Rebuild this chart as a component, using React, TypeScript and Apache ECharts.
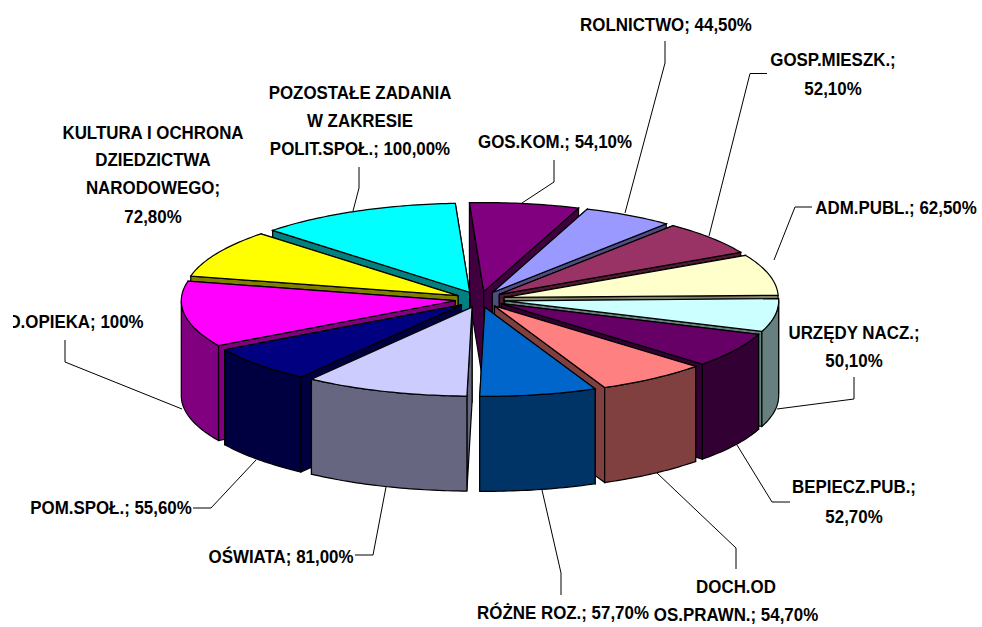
import React, { useEffect, useRef } from "react";
import * as echarts from "echarts";

const names = ["GOS.KOM.", "ROLNICTWO", "GOSP.MIESZK.", "ADM.PUBL.", "URZĘDY NACZ.", "BEPIECZ.PUB.", "DOCH.OD OS.PRAWN.", "RÓŻNE ROZ.", "OŚWIATA", "POM.SPOŁ.", "D.OPIEKA", "KULTURA I OCHRONA DZIEDZICTWA NARODOWEGO", "POZOSTAŁE ZADANIA W ZAKRESIE POLIT.SPOŁ."];
const values = [54.1, 44.5, 52.1, 62.5, 50.1, 52.7, 54.7, 57.7, 81.0, 55.6, 100, 72.8, 100];
const topColors = ["#800080", "#9999FF", "#993366", "#FFFFCC", "#CCFFFF", "#660066", "#FF8080", "#0066CC", "#CCCCFF", "#000080", "#FF00FF", "#FFFF00", "#00FFFF"];
const sideColors = ["#400040", "#4D4D80", "#4D1A33", "#808066", "#668080", "#330033", "#804040", "#003366", "#666680", "#000040", "#800080", "#808000", "#008080"];

const labelLines = [
  ["GOS.KOM.; 54,10%"],
  ["ROLNICTWO; 44,50%"],
  ["GOSP.MIESZK.;", "52,10%"],
  ["ADM.PUBL.; 62,50%"],
  ["URZĘDY NACZ.;", "50,10%"],
  ["BEPIECZ.PUB.;", "52,70%"],
  ["DOCH.OD", "OS.PRAWN.; 54,70%"],
  ["RÓŻNE ROZ.; 57,70%"],
  ["OŚWIATA; 81,00%"],
  ["POM.SPOŁ.; 55,60%"],
  ["D.OPIEKA; 100%"],
  ["KULTURA I OCHRONA", "DZIEDZICTWA", "NARODOWEGO;", "72,80%"],
  ["POZOSTAŁE ZADANIA", "W ZAKRESIE", "POLIT.SPOŁ.; 100,00%"],
];
// label placement: centre x, middle y of each line
const labelX = [555, 666, 833, 896, 854, 854, 736, 563, 281, 111, 76, 153, 360];
const labelY = [
  [142], [25], [60, 89], [208], [333, 361], [487, 517], [587, 615], [613], [557], [508], [322], [133, 160, 188, 217], [93, 121, 149],
];
const leaders: number[][][] = [
  [[554, 160], [554, 182], [522, 203]],
  [[665, 41], [665, 63], [625, 213]],
  [[767, 73.5], [750, 73.5], [709, 236]],
  [[812, 207], [795, 207], [774, 260]],
  [[854, 377], [854, 399], [777, 409]],
  [[790, 502], [772, 502], [737, 445]],
  [[736, 569], [736, 548], [657, 473]],
  [[561, 595], [561, 573], [542, 490]],
  [[355, 555], [373, 555], [386, 487]],
  [[193, 508], [211, 508], [256, 460]],
  [[65, 340], [65, 362], [182, 409]],
  [],
  [[359, 167], [359, 188], [353, 211]],
];

const START_DEG = -3;
const CX = 480, CY = 299.5, RX = 274, RY = 89, DEPTH = 95, EX = 25, EY = 8;
const total = values.reduce((a, b) => a + b, 0);
const rad = (d: number) => (d * Math.PI) / 180;

function sliceAngles(i: number) {
  let s = START_DEG;
  for (let k = 0; k < i; k++) s += (values[k] / total) * 360;
  return [s, s + (values[i] / total) * 360];
}
// paint back slices first
const depthRank = values
  .map((_, i) => {
    const [a, b] = sliceAngles(i);
    return { i, d: -Math.cos(rad((a + b) / 2)) };
  })
  .sort((p, q) => p.d - q.d)
  .reduce((acc: number[], p, r) => {
    acc[p.i] = r;
    return acc;
  }, []);

const renderSlice = (params: any, api: any) => {
  const i = params.dataIndex;
  const share = (api.value(0) / total) * 360;
  const a0 = sliceAngles(i)[0];
  const a1 = a0 + share;
  const mid = rad((a0 + a1) / 2);
  const ox = CX + EX * Math.sin(mid);
  const oy = CY - EY * Math.cos(mid);
  const pt = (deg: number, dz = 0) => [ox + RX * Math.sin(rad(deg)), oy - RY * Math.cos(rad(deg)) + dz];
  const arc = (from: number, to: number, dz = 0) => {
    const pts: number[][] = [];
    const n = Math.max(1, Math.ceil(Math.abs(to - from)));
    for (let k = 0; k <= n; k++) pts.push(pt(from + ((to - from) * k) / n, dz));
    return pts;
  };
  const base = { stroke: "#000", lineWidth: 1.2, lineJoin: "miter" };
  const z = depthRank[i] * 5;
  const poly = (points: number[][], fill: string, k: number) => ({
    type: "polygon",
    z2: z + k,
    shape: { points },
    style: { ...base, fill },
    silent: true,
  });
  const wall = (deg: number, k: number) =>
    poly([[ox, oy], pt(deg), pt(deg, DEPTH), [ox, oy + DEPTH]], sideColors[i], k);
  // of the two radial walls, the one further back goes down first
  const backFirst = Math.cos(rad(a0)) > Math.cos(rad(a1));
  const children: any[] = backFirst ? [wall(a0, 0), wall(a1, 1)] : [wall(a1, 0), wall(a0, 1)];
  const f0 = Math.max(a0, 90);
  const f1 = Math.min(a1, 270);
  if (f1 > f0) {
    children.push(poly([...arc(f0, f1), ...arc(f1, f0, DEPTH)], sideColors[i], 2));
  }
  children.push(poly([[ox, oy], ...arc(a0, a1)], topColors[i], 3));
  return { type: "group", children };
};

const labelGraphics: any[] = [];
labelLines.forEach((lines, i) => {
  lines.forEach((t, j) => {
    labelGraphics.push({
      type: "text",
      z: 20,
      x: labelX[i],
      y: labelY[i][j],
      scaleX: 0.89,
      style: {
        text: t,
        fill: "#000",
        font: 'bold 19px "Liberation Sans", Arial, sans-serif',
        textAlign: "center",
        textVerticalAlign: "middle",
      },
    });
  });
});
const leaderGraphics = leaders
  .filter((l) => l.length)
  .map((points) => ({
    type: "polyline",
    z: 15,
    shape: { points },
    style: { stroke: "#000", lineWidth: 1, fill: "none" },
  }));

export default function App() {
  const ref = useRef<HTMLDivElement>(null);
  useEffect(() => {
    document.body.style.margin = "0";
    const chart = echarts.init(ref.current!, undefined, { renderer: "svg" });
    chart.setOption({
      animation: false,
      backgroundColor: "#fff",
      series: [
        {
          type: "custom",
          coordinateSystem: "none",
          renderItem: renderSlice,
          data: names.map((name, i) => ({ name, value: [values[i]] })),
          silent: true,
        },
      ],
      graphic: [
        ...leaderGraphics,
        ...labelGraphics,
        // the reference crops the left of the label at the page edge
        { type: "rect", z: 30, shape: { x: 0, y: 305, width: 13, height: 34 }, style: { fill: "#fff" }, silent: true },
      ],
    });
    return () => chart.dispose();
  }, []);
  return <div ref={ref} style={{ width: 982, height: 627 }} />;
}
